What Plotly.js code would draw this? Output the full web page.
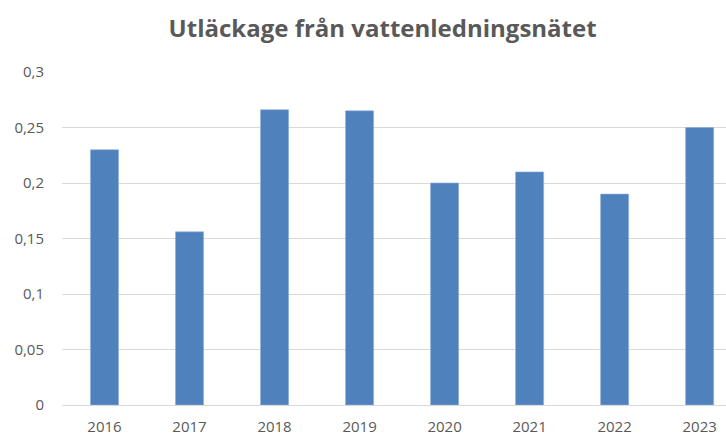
<!DOCTYPE html>
<html>
<head>
<meta charset="utf-8">
<script src="https://cdn.plot.ly/plotly-3.0.1.min.js"></script>
<style>html,body{margin:0;padding:0;background:#fff;}#chart{width:726px;height:439px;}</style>
</head>
<body>
<div id="chart"></div>
<script>
const years = ['2016','2017','2018','2019','2020','2021','2022','2023'];
const leakage = [0.23, 0.156, 0.266, 0.265, 0.2, 0.21, 0.19, 0.25];
const yTicks = [0, 0.05, 0.1, 0.15, 0.2, 0.25, 0.3];
const chartTitle = 'Utläckage från vattenledningsnätet';

const trace = {
  type: 'bar',
  x: years,
  y: leakage,
  marker: {color: '#4f81bd', line: {color: '#8eaedb', width: 0.6}},
  hoverinfo: 'x+y'
};

const layout = {
  width: 726, height: 439,
  paper_bgcolor: '#ffffff', plot_bgcolor: '#ffffff',
  separators: ', ',
  margin: {l: 62, r: 0, t: 71, b: 34},
  bargap: 0.67,
  showlegend: false,
  title: {
    text: '<b>' + chartTitle + '</b>',
    font: {family: 'Open Sans, sans-serif', size: 24, color: '#595959'},
    x: 0.527, xanchor: 'center', y: 0.935, yanchor: 'middle'
  },
  xaxis: {
    type: 'category',
    range: [-0.5, 7.31],
    showgrid: false, zeroline: false, showline: false,
    ticks: '',
    tickfont: {family: 'Open Sans, sans-serif', size: 15, color: '#595959'},
    ticklabelstandoff: 11
  },
  yaxis: {
    range: [0, 0.3009],
    tickvals: yTicks,
    showgrid: true, gridcolor: '#d9d9d9', gridwidth: 1,
    zeroline: true, zerolinecolor: '#d9d9d9', zerolinewidth: 1,
    showline: false, ticks: '',
    tickfont: {family: 'Open Sans, sans-serif', size: 15, color: '#595959'},
    ticklabelstandoff: 17
  }
};

Plotly.newPlot('chart', [trace], layout, {displayModeBar: false, staticPlot: true});
</script>
</body>
</html>
